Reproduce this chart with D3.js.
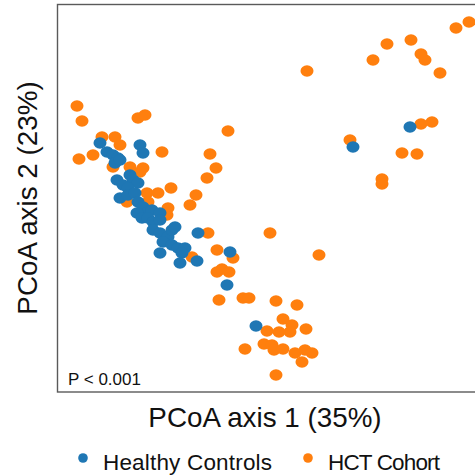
<!DOCTYPE html>
<html>
<head>
<meta charset="utf-8">
<script src="https://cdn.jsdelivr.net/npm/d3@7"></script>
<style>
  body { margin: 0; background: white; }
  svg { display: block; font-family: "Liberation Sans", Arial, Helvetica, sans-serif; }
</style>
</head>
<body>
<div id="pcoa"></div>
<script>
// PCoA scores (arbitrary units)
const groups = ["Healthy Controls", "HCT Cohort"];
const groupColors = ["#1f77b4", "#ff7f0e"];

const healthyPC1 = [-0.150, -0.143, -0.137, -0.132, -0.135, -0.130, -0.110, -0.107, -0.120, -0.117,
  -0.112, -0.133, -0.127, -0.122, -0.130, -0.122, -0.115, -0.112, -0.107, -0.102,
  -0.113, -0.108, -0.098, -0.090, -0.102, -0.097, -0.090, -0.097, -0.090, -0.082,
  -0.078, -0.075, -0.087, -0.078, -0.072, -0.065, -0.068, -0.090, -0.052, -0.070,
  -0.053, -0.020, -0.023, 0.006, 0.103, 0.160];
const healthyPC2 = [0.057, 0.048, 0.045, 0.042, 0.037, 0.040, 0.055, 0.047, 0.025, 0.020,
  0.017, 0.020, 0.015, 0.012, 0.002, 0.005, 0.007, -0.002, -0.007, -0.012,
  -0.013, -0.018, -0.010, -0.013, -0.018, -0.022, -0.020, -0.030, -0.033, -0.037,
  -0.030, -0.027, -0.042, -0.045, -0.048, -0.048, -0.053, -0.053, -0.033, -0.063,
  -0.061, -0.052, -0.085, -0.126, 0.053, 0.073];

const hctPC1 = [-0.173, -0.168, -0.112, -0.105, -0.148, -0.135, -0.130, -0.157, -0.171, -0.137,
  -0.088, -0.120, -0.107, -0.110, -0.022, -0.040, -0.034, -0.043, -0.079, -0.103,
  -0.092, -0.123, -0.102, -0.054, -0.060, -0.082, -0.083, -0.042, -0.058, 0.020,
  -0.033, -0.017, -0.033, -0.028, -0.021, 0.069, -0.031, -0.007, -0.001, 0.026,
  0.047, 0.033, 0.042, 0.056, 0.017, 0.029, 0.040, 0.014, 0.022, 0.024,
  0.033, 0.045, 0.055, 0.062, 0.052, 0.026, -0.005, 0.057, 0.123, 0.137,
  0.161, 0.171, 0.175, 0.190, 0.206, 0.219, 0.171, 0.182, 0.100, 0.152,
  0.167, 0.132, 0.132];
const hctPC2 = [0.094, 0.079, 0.082, 0.085, 0.063, 0.063, 0.055, 0.045, 0.041, 0.033,
  0.048, 0.033, 0.032, 0.028, 0.069, 0.046, 0.032, 0.022, 0.012, 0.007,
  0.007, -0.002, -0.002, 0.005, -0.005, -0.008, -0.015, -0.033, -0.057, -0.033,
  -0.050, -0.058, -0.072, -0.069, -0.072, -0.055, -0.100, -0.098, -0.098, -0.101,
  -0.105, -0.119, -0.125, -0.129, -0.131, -0.132, -0.132, -0.144, -0.145, -0.150,
  -0.149, -0.153, -0.150, -0.153, -0.162, -0.175, -0.149, 0.129, 0.140, 0.156,
  0.160, 0.146, 0.140, 0.127, 0.172, 0.178, 0.076, 0.078, 0.060, 0.047,
  0.046, 0.021, 0.016];

const xLabel = "PCoA axis 1 (35%)";
const yLabel = "PCoA axis 2 (23%)";
const pText = "P < 0.001";

const width = 475, height = 475;
// plot frame runs off the right edge of the picture
const frame = {left: 57.5, top: 4.5, bottom: 392, right: 520};

const svg = d3.select("#pcoa")
  .append("svg")
  .attr("width", width)
  .attr("height", height);

const x = d3.scaleLinear()
  .domain([-0.192, 0.25])
  .range([58, 500]);

const y = d3.scaleLinear()
  .domain([-0.192, 0.196])
  .range([392, 4]);

const color = d3.scaleOrdinal().domain(groups).range(groupColors);

// build the point table, HCT first so the controls sit on top
const points = [];
hctPC1.forEach((v, i) => points.push({g: groups[1], pc1: v, pc2: hctPC2[i]}));
healthyPC1.forEach((v, i) => points.push({g: groups[0], pc1: v, pc2: healthyPC2[i]}));

const plot = svg.append("g");
plot.selectAll("ellipse")
  .data(points)
  .join("ellipse")
  .attr("cx", d => x(d.pc1))
  .attr("cy", d => y(d.pc2))
  .attr("rx", 6.5)
  .attr("ry", 5.7)
  .attr("fill", d => color(d.g));

// frame
svg.append("rect")
  .attr("x", frame.left)
  .attr("y", frame.top)
  .attr("width", frame.right - frame.left)
  .attr("height", frame.bottom - frame.top)
  .attr("fill", "none")
  .attr("stroke", "#5a5a5a")
  .attr("stroke-width", 1.4);

svg.append("text")
  .attr("x", 68)
  .attr("y", 385)
  .style("font-size", "17px")
  .style("fill", "#111")
  .text(pText);

// axis titles
svg.append("text")
  .attr("x", 265)
  .attr("y", 427)
  .attr("text-anchor", "middle")
  .style("font-size", "27.8px")
  .style("fill", "#111")
  .text(xLabel);

svg.append("text")
  .attr("transform", "translate(37,198) rotate(-90)")
  .attr("text-anchor", "middle")
  .style("font-size", "27.8px")
  .style("fill", "#111")
  .text(yLabel);

// legend
const legendX = [83, 308];
const legendTextLen = [169, 112];
const legend = svg.append("g");
legend.selectAll("circle")
  .data(groups)
  .join("circle")
  .attr("cx", (d, i) => legendX[i])
  .attr("cy", 458)
  .attr("r", 4.8)
  .attr("fill", d => color(d));

legend.selectAll("text")
  .data(groups)
  .join("text")
  .attr("x", (d, i) => legendX[i] + 20)
  .attr("y", 470)
  .attr("textLength", (d, i) => legendTextLen[i])
  .attr("lengthAdjust", "spacing")
  .style("font-size", "22.5px")
  .style("fill", "#111")
  .text(d => d);
</script>
</body>
</html>
